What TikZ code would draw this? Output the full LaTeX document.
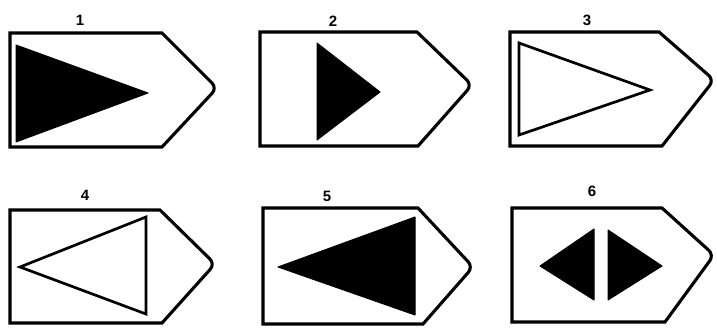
\documentclass[tikz,border=0pt]{standalone}
\usepackage{fontspec}
\setmainfont{Liberation Sans}
\begin{document}
\begin{tikzpicture}[x=1pt,y=-1pt,
  sign/.style={line width=3.1pt,line join=miter},
  tri/.style={line width=2.7pt,line join=miter},
  solid tri/.style={fill=black,draw=black,line width=1pt,line join=round},
  lab/.style={font=\bfseries\fontsize{15}{15}\selectfont,inner sep=0pt}]
\useasboundingbox (0,0) rectangle (717,334);
% panel 1
\node[lab] (l1) at (80,20) {1};
\draw[sign] (10,33) -- (162,33) [rounded corners=7pt] -- (217,88) [sharp corners] -- (162,147) -- (10,147) -- cycle;
\fill[solid tri] (16,45) -- (148,93) -- (16,142) -- cycle;
% panel 2
\node[lab] (l2) at (333,21) {2};
\draw[sign] (260,32) -- (417,32) [rounded corners=7pt] -- (472,85) [sharp corners] -- (418,146) -- (260,146) -- cycle;
\fill[solid tri] (317,43) -- (380,92) -- (317,140) -- cycle;
% panel 3
\node[lab] (l3) at (587,20) {3};
\draw[sign] (510,32) -- (659,32) [rounded corners=7pt] -- (714,80) [sharp corners] -- (662,146) -- (510,146) -- cycle;
\draw[tri] (519,43) -- (650,90) -- (519,135) -- cycle;
% panel 4
\node[lab] (l4) at (85,195) {4};
\draw[sign] (10,210) -- (160,210) [rounded corners=7pt] -- (215,264) [sharp corners] -- (162,323) -- (10,323) -- cycle;
\draw[tri] (146,217) -- (146,314) -- (20,267) -- cycle;
% panel 5
\node[lab] (l5) at (327,196) {5};
\draw[sign] (263,208) -- (418,208) [rounded corners=7pt] -- (473,267) [sharp corners] -- (423,324) -- (263,324) -- cycle;
\fill[solid tri] (415,217) -- (415,315) -- (278,267) -- cycle;
% panel 6
\node[lab] (l6) at (592,191) {6};
\draw[sign] (512,208) -- (662,208) [rounded corners=7pt] -- (714,255) [sharp corners] -- (665,322) -- (512,322) -- cycle;
\fill[solid tri] (594,229) -- (594,300) -- (540,266) -- cycle;
\fill[solid tri] (608,230) -- (662,266) -- (608,300) -- cycle;
\end{tikzpicture}
\end{document}
